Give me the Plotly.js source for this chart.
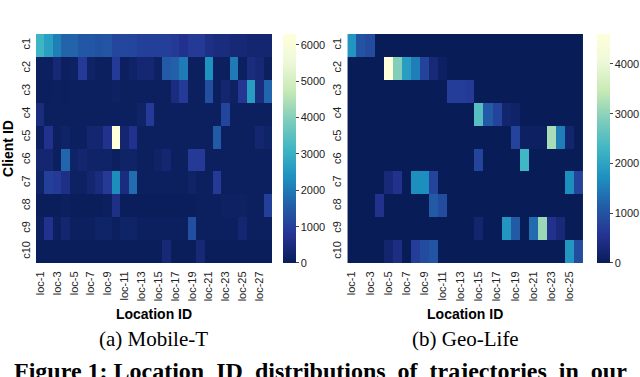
<!DOCTYPE html>
<html>
<head>
<meta charset="utf-8">
<script src="https://cdn.plot.ly/plotly-3.0.1.min.js"></script>
<style>
  html, body { margin: 0; padding: 0; background: #fff; }
  #chart { width: 640px; height: 377px; }
</style>
</head>
<body>
<div id="chart"></div>
<script>
// client ids, shared by both panels
const clientIds = ['c1', 'c2', 'c3', 'c4', 'c5', 'c6', 'c7', 'c8', 'c9', 'c10'];

// (a) Mobile-T: 28 locations
const mobileLocs = Array.from({ length: 28 }, (_, i) => 'loc-' + (i + 1));
const mobileTicks = mobileLocs.filter((_, i) => i % 2 === 0);
const mobileValues = [
    [3100, 2650, 2100, 1650, 1650, 1450, 1450, 1350, 1400, 1150, 1150, 1100, 1000, 1000, 1000, 1000, 900, 700, 900, 900, 600, 500, 500, 400, 400, 300, 300, 300],
    [100, 100, 400, 100, 150, 900, 200, 100, 100, 900, 100, 200, 350, 350, 150, 1500, 1600, 2000, 100, 100, 2400, 100, 100, 2000, 100, 500, 400, 100],
    [80, 80, 100, 80, 100, 100, 100, 100, 100, 150, 100, 100, 100, 100, 100, 100, 500, 900, 100, 100, 1300, 100, 300, 150, 800, 2600, 500, 1700],
    [500, 100, 100, 100, 100, 100, 100, 100, 100, 100, 100, 100, 200, 900, 100, 100, 100, 100, 100, 100, 100, 100, 1100, 100, 100, 100, 100, 100],
    [100, 700, 100, 200, 100, 100, 300, 300, 700, 6300, 300, 700, 100, 100, 100, 100, 100, 100, 100, 100, 100, 1500, 100, 100, 100, 100, 300, 200],
    [300, 300, 100, 1700, 200, 300, 200, 200, 200, 100, 200, 200, 100, 100, 200, 300, 100, 100, 900, 900, 100, 100, 100, 100, 100, 100, 100, 100],
    [200, 1000, 900, 600, 150, 150, 300, 500, 900, 2300, 500, 1800, 100, 100, 100, 100, 100, 100, 200, 100, 100, 900, 100, 100, 100, 100, 100, 100],
    [50, 50, 50, 100, 50, 50, 50, 50, 100, 600, 50, 50, 50, 50, 50, 50, 50, 50, 50, 100, 100, 100, 150, 150, 150, 100, 100, 1000],
    [100, 700, 100, 300, 100, 100, 100, 200, 200, 100, 200, 200, 100, 100, 100, 100, 100, 100, 1300, 100, 100, 100, 100, 100, 300, 100, 100, 100],
    [50, 50, 50, 50, 50, 50, 50, 50, 50, 50, 50, 50, 50, 50, 50, 400, 50, 50, 50, 400, 50, 50, 50, 50, 50, 50, 50, 50]
];

// (b) Geo-Life: 26 locations
const geoLocs = Array.from({ length: 26 }, (_, i) => 'loc-' + (i + 1));
const geoTicks = geoLocs.filter((_, i) => i % 2 === 0);
const geoValues = [
    [1800, 1000, 900, 0, 0, 0, 0, 0, 0, 0, 0, 0, 0, 0, 0, 0, 0, 0, 0, 0, 0, 0, 0, 0, 0, 0],
    [0, 0, 0, 0, 4600, 2900, 1900, 1500, 800, 300, 100, 0, 0, 0, 0, 0, 0, 0, 0, 0, 0, 0, 0, 0, 0, 0],
    [0, 0, 0, 0, 0, 0, 0, 0, 0, 0, 0, 700, 700, 650, 0, 0, 0, 0, 0, 0, 0, 0, 0, 0, 0, 0],
    [0, 0, 0, 0, 0, 0, 0, 0, 0, 0, 0, 0, 0, 0, 2500, 1100, 800, 200, 150, 0, 0, 0, 0, 0, 0, 0],
    [0, 0, 0, 0, 0, 0, 0, 0, 0, 0, 0, 0, 0, 0, 0, 0, 0, 0, 800, 100, 100, 100, 3200, 1500, 200, 0],
    [0, 0, 0, 0, 0, 0, 0, 0, 0, 0, 0, 0, 0, 0, 800, 0, 0, 0, 0, 2300, 0, 0, 0, 0, 0, 0],
    [0, 0, 0, 0, 300, 500, 0, 1700, 1700, 800, 0, 0, 0, 0, 0, 0, 0, 0, 0, 0, 0, 0, 0, 0, 1700, 800],
    [0, 0, 0, 500, 0, 0, 0, 0, 0, 1100, 900, 0, 0, 0, 0, 0, 0, 0, 0, 0, 0, 0, 0, 0, 0, 0],
    [0, 0, 0, 0, 0, 0, 0, 0, 0, 0, 0, 0, 0, 0, 200, 0, 0, 1800, 1100, 0, 1300, 3100, 500, 300, 0, 0],
    [0, 0, 0, 0, 200, 400, 0, 700, 900, 1000, 0, 0, 0, 0, 0, 0, 0, 0, 0, 0, 0, 0, 0, 0, 1800, 900]
];

const ylgnbu = [
    [0, 'rgb(8,29,88)'], [0.125, 'rgb(37,52,148)'], [0.25, 'rgb(34,94,168)'],
    [0.375, 'rgb(29,145,192)'], [0.5, 'rgb(65,182,196)'], [0.625, 'rgb(127,205,187)'],
    [0.75, 'rgb(199,233,180)'], [0.875, 'rgb(237,248,217)'], [1, 'rgb(255,255,217)']
];

const tickFont = { family: 'Liberation Sans, Arial, sans-serif', size: 11, color: '#222' };
const titleFont = { family: 'Liberation Sans, Arial, sans-serif', size: 14, color: '#000', weight: 'bold' };

function colorbar(x, vals) {
    return {
        x: x, xanchor: 'left', y: 0.3024, yanchor: 'bottom',
        len: 0.607, lenmode: 'fraction', thickness: 13,
        outlinewidth: 0, ticks: 'outside', ticklen: 3, tickwidth: 1, tickcolor: '#444',
        tickvals: vals, tickfont: tickFont, xpad: 0, ypad: 0
    };
}

const traces = [
    {
        type: 'heatmap', x: mobileLocs, y: clientIds, z: mobileValues,
        colorscale: ylgnbu, zmin: 0, zmax: 6300,
        colorbar: colorbar(0.442, [0, 1000, 2000, 3000, 4000, 5000, 6000]),
        xaxis: 'x', yaxis: 'y'
    },
    {
        type: 'heatmap', x: geoLocs, y: clientIds, z: geoValues,
        colorscale: ylgnbu, zmin: 0, zmax: 4600,
        colorbar: colorbar(0.933, [0, 1000, 2000, 3000, 4000]),
        xaxis: 'x2', yaxis: 'y2'
    }
];

function xAxis(domain, ticks, anchor) {
    return {
        domain: domain, anchor: anchor, type: 'category',
        tickmode: 'array', tickvals: ticks, ticktext: ticks,
        tickangle: -90, tickfont: tickFont, ticks: 'outside', ticklen: 3, tickcolor: 'rgba(0,0,0,0)',
        showgrid: false, zeroline: false, showline: false,
        title: { text: 'Location ID', font: titleFont, standoff: 8 }
    };
}

function yAxis(anchor, title) {
    return {
        domain: [0.3024, 0.9098], anchor: anchor, type: 'category',
        autorange: 'reversed', tickangle: -90, tickfont: tickFont,
        ticks: 'outside', ticklen: 1, tickcolor: 'rgba(0,0,0,0)',
        showgrid: false, zeroline: false, showline: false,
        title: { text: title, font: titleFont, standoff: 3 }
    };
}

const captionFont = { family: 'Liberation Serif, Times New Roman, serif', size: 21, color: '#000' };
const figFont = { family: 'Liberation Serif, Times New Roman, serif', size: 24, color: '#000' };

const layout = {
    width: 640, height: 377,
    margin: { l: 0, r: 0, t: 0, b: 0 },
    paper_bgcolor: '#fff', plot_bgcolor: '#fff',
    showlegend: false,
    xaxis: xAxis([0.05625, 0.425], mobileTicks, 'y'),
    yaxis: yAxis('x', 'Client ID'),
    xaxis2: xAxis([0.5427, 0.9109], geoTicks, 'y2'),
    yaxis2: yAxis('x2', ''),
    annotations: [
        { text: '(a) Mobile-T', x: 153 / 640, y: 1 - 339 / 377, xref: 'paper', yref: 'paper',
          showarrow: false, font: captionFont, xanchor: 'center', yanchor: 'middle' },
        { text: '(b) Geo-Life', x: 465 / 640, y: 1 - 339 / 377, xref: 'paper', yref: 'paper',
          showarrow: false, font: captionFont, xanchor: 'center', yanchor: 'middle' },
        { text: '<b>Figure 1: Location&nbsp; ID&nbsp; distributions&nbsp; of&nbsp; trajectories&nbsp; in&nbsp; our</b>',
          x: 0.5, y: 1 - 371 / 377, xref: 'paper', yref: 'paper', showarrow: false, font: figFont,
          xanchor: 'center', yanchor: 'middle' }
    ]
};

Plotly.newPlot('chart', traces, layout, { displayModeBar: false, staticPlot: true });
</script>
</body>
</html>
